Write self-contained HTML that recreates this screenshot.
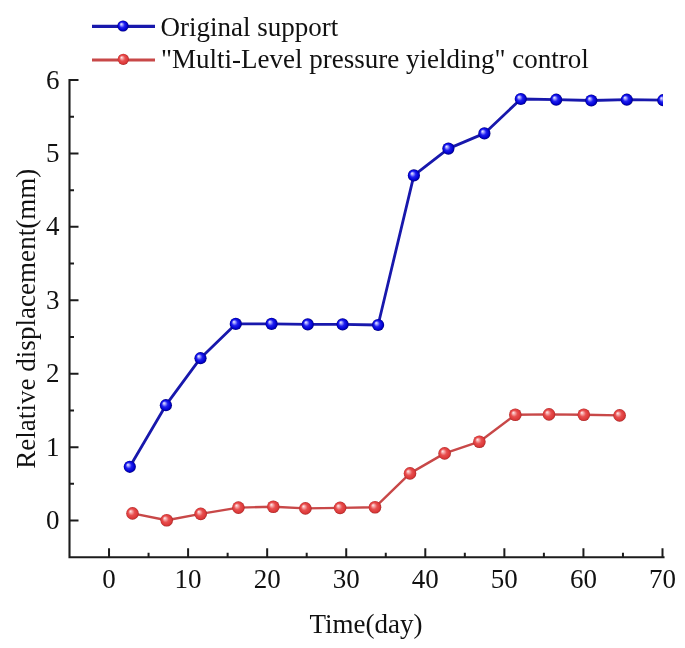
<!DOCTYPE html>
<html><head><meta charset="utf-8"><title>Relative displacement chart</title>
<style>html,body{margin:0;padding:0;background:#fff;}svg{display:block;filter:blur(0.5px);}</style>
</head><body>
<svg width="685" height="648" viewBox="0 0 685 648">
<defs>
<radialGradient id="gb" cx="0.5" cy="0.5" r="0.5" fx="0.33" fy="0.32">
<stop offset="0" stop-color="#f0f0ff"/>
<stop offset="0.2" stop-color="#a0a0ff"/>
<stop offset="0.48" stop-color="#2020f0"/>
<stop offset="0.82" stop-color="#0000d0"/>
<stop offset="1" stop-color="#000078"/>
</radialGradient>
<radialGradient id="gr" cx="0.5" cy="0.5" r="0.5" fx="0.33" fy="0.32">
<stop offset="0" stop-color="#fff0f0"/>
<stop offset="0.22" stop-color="#f6a8a8"/>
<stop offset="0.5" stop-color="#e85050"/>
<stop offset="0.84" stop-color="#dc3838"/>
<stop offset="1" stop-color="#a82a2a"/>
</radialGradient>
<clipPath id="cp"><rect x="69.5" y="0" width="593.5" height="557.3"/></clipPath>
</defs>
<rect width="685" height="648" fill="#ffffff"/>
<g font-family="'Liberation Serif', serif" font-size="27" fill="#111">
<text x="109.03" y="588.3" text-anchor="middle">0</text><text x="188.10" y="588.3" text-anchor="middle">10</text><text x="267.17" y="588.3" text-anchor="middle">20</text><text x="346.23" y="588.3" text-anchor="middle">30</text><text x="425.30" y="588.3" text-anchor="middle">40</text><text x="504.37" y="588.3" text-anchor="middle">50</text><text x="583.43" y="588.3" text-anchor="middle">60</text><text x="662.50" y="588.3" text-anchor="middle">70</text><text x="59.6" y="529.18" text-anchor="end">0</text><text x="59.6" y="455.75" text-anchor="end">1</text><text x="59.6" y="382.32" text-anchor="end">2</text><text x="59.6" y="308.89" text-anchor="end">3</text><text x="59.6" y="235.46" text-anchor="end">4</text><text x="59.6" y="162.03" text-anchor="end">5</text><text x="59.6" y="88.60" text-anchor="end">6</text>
<text x="366" y="632.5" text-anchor="middle">Time(day)</text>
<text transform="translate(34.6 318.7) rotate(-90)" text-anchor="middle" font-size="27.1">Relative displacement(mm)</text>
<text x="160.5" y="36.1">Original support</text>
<text x="161" y="68.4">"Multi-Level pressure yielding" control</text>
</g>
<path d="M69.5 80.0V557.3H663.5" fill="none" stroke="#1c1c1c" stroke-width="2.1" stroke-linecap="square"/>
<path d="M109.03 557.3V548.3 M148.57 557.3V552.8 M188.10 557.3V548.3 M227.63 557.3V552.8 M267.17 557.3V548.3 M306.70 557.3V552.8 M346.23 557.3V548.3 M385.77 557.3V552.8 M425.30 557.3V548.3 M464.83 557.3V552.8 M504.37 557.3V548.3 M543.90 557.3V552.8 M583.43 557.3V548.3 M622.97 557.3V552.8 M662.50 557.3V548.3 M69.5 520.58H78.5 M69.5 483.87H74.0 M69.5 447.15H78.5 M69.5 410.44H74.0 M69.5 373.72H78.5 M69.5 337.01H74.0 M69.5 300.29H78.5 M69.5 263.58H74.0 M69.5 226.86H78.5 M69.5 190.15H74.0 M69.5 153.43H78.5 M69.5 116.72H74.0 M69.5 80.00H78.5" fill="none" stroke="#1c1c1c" stroke-width="2"/>
<g clip-path="url(#cp)">
<polyline points="132.5,513.4 166.7,520.3 200.7,513.9 238.4,507.6 273.3,506.8 305.4,508.4 340.1,507.9 375.0,507.3 410.0,473.4 444.6,453.4 479.4,441.7 515.3,414.8 549.0,414.4 583.8,414.8 619.6,415.4" fill="none" stroke="#c84848" stroke-width="2.4" stroke-linejoin="round"/>
<circle cx="132.5" cy="513.4" r="6.3" fill="url(#gr)"/><circle cx="166.7" cy="520.3" r="6.3" fill="url(#gr)"/><circle cx="200.7" cy="513.9" r="6.3" fill="url(#gr)"/><circle cx="238.4" cy="507.6" r="6.3" fill="url(#gr)"/><circle cx="273.3" cy="506.8" r="6.3" fill="url(#gr)"/><circle cx="305.4" cy="508.4" r="6.3" fill="url(#gr)"/><circle cx="340.1" cy="507.9" r="6.3" fill="url(#gr)"/><circle cx="375.0" cy="507.3" r="6.3" fill="url(#gr)"/><circle cx="410.0" cy="473.4" r="6.3" fill="url(#gr)"/><circle cx="444.6" cy="453.4" r="6.3" fill="url(#gr)"/><circle cx="479.4" cy="441.7" r="6.3" fill="url(#gr)"/><circle cx="515.3" cy="414.8" r="6.3" fill="url(#gr)"/><circle cx="549.0" cy="414.4" r="6.3" fill="url(#gr)"/><circle cx="583.8" cy="414.8" r="6.3" fill="url(#gr)"/><circle cx="619.6" cy="415.4" r="6.3" fill="url(#gr)"/>
<polyline points="129.8,466.8 165.9,405.2 200.5,358.2 235.8,323.9 271.6,323.9 307.75,324.4 342.6,324.4 378.1,325.0 413.9,175.4 448.4,148.6 484.4,133.4 520.8,99.0 556.2,99.7 591.3,100.5 626.8,99.7 663.3,100.2" fill="none" stroke="#1818ac" stroke-width="2.8" stroke-linejoin="round"/>
<circle cx="129.8" cy="466.8" r="6.1" fill="url(#gb)"/><circle cx="165.9" cy="405.2" r="6.1" fill="url(#gb)"/><circle cx="200.5" cy="358.2" r="6.1" fill="url(#gb)"/><circle cx="235.8" cy="323.9" r="6.1" fill="url(#gb)"/><circle cx="271.6" cy="323.9" r="6.1" fill="url(#gb)"/><circle cx="307.75" cy="324.4" r="6.1" fill="url(#gb)"/><circle cx="342.6" cy="324.4" r="6.1" fill="url(#gb)"/><circle cx="378.1" cy="325.0" r="6.1" fill="url(#gb)"/><circle cx="413.9" cy="175.4" r="6.1" fill="url(#gb)"/><circle cx="448.4" cy="148.6" r="6.1" fill="url(#gb)"/><circle cx="484.4" cy="133.4" r="6.1" fill="url(#gb)"/><circle cx="520.8" cy="99.0" r="6.1" fill="url(#gb)"/><circle cx="556.2" cy="99.7" r="6.1" fill="url(#gb)"/><circle cx="591.3" cy="100.5" r="6.1" fill="url(#gb)"/><circle cx="626.8" cy="99.7" r="6.1" fill="url(#gb)"/><circle cx="663.3" cy="100.2" r="6.1" fill="url(#gb)"/>
</g>
<path d="M92 26.3H155" stroke="#1818ac" stroke-width="3.2"/>
<circle cx="123" cy="26" r="5.6" fill="url(#gb)"/>
<path d="M92 59.9H155" stroke="#c84848" stroke-width="3"/>
<circle cx="123.3" cy="59.3" r="5.6" fill="url(#gr)"/>
</svg>
</body></html>
